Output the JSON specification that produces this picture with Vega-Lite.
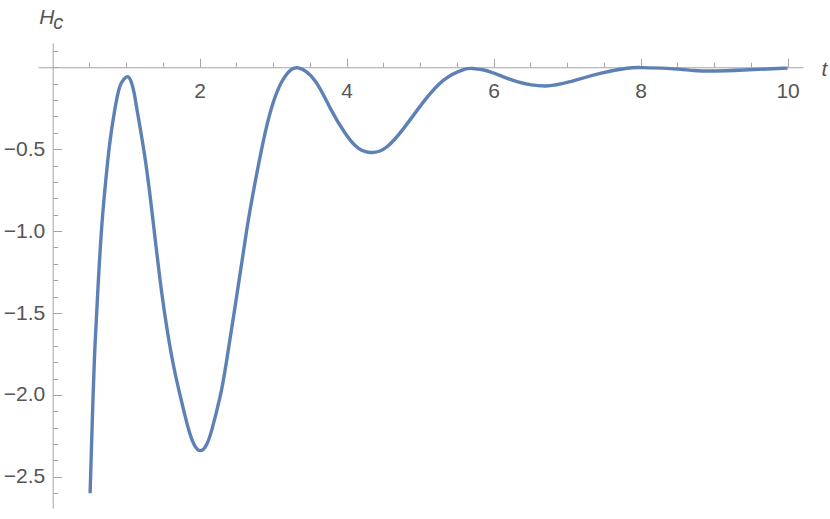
{
  "$schema": "https://vega.github.io/schema/vega-lite/v6.json",
  "width": 765,
  "height": 465,
  "autosize": "none",
  "padding": {"left": 38, "top": 43, "right": 27, "bottom": 11},
  "background": "white",
  "config": {"view": {"stroke": null}, "axis": {"grid": false}},
  "data": {"values": [
    {"t": 0.509, "H": -2.6},
    {"t": 0.536, "H": -2.197},
    {"t": 0.567, "H": -1.789},
    {"t": 0.612, "H": -1.381},
    {"t": 0.667, "H": -0.974},
    {"t": 0.727, "H": -0.669},
    {"t": 0.776, "H": -0.465},
    {"t": 0.844, "H": -0.261},
    {"t": 0.912, "H": -0.119},
    {"t": 0.966, "H": -0.075},
    {"t": 1.015, "H": -0.057},
    {"t": 1.065, "H": -0.085},
    {"t": 1.11, "H": -0.16},
    {"t": 1.148, "H": -0.261},
    {"t": 1.261, "H": -0.567},
    {"t": 1.374, "H": -0.969},
    {"t": 1.488, "H": -1.39},
    {"t": 1.62, "H": -1.765},
    {"t": 1.738, "H": -2.01},
    {"t": 1.85, "H": -2.211},
    {"t": 1.932, "H": -2.309},
    {"t": 2.009, "H": -2.34},
    {"t": 2.087, "H": -2.309},
    {"t": 2.169, "H": -2.207},
    {"t": 2.282, "H": -2.003},
    {"t": 2.36, "H": -1.81},
    {"t": 2.509, "H": -1.381},
    {"t": 2.645, "H": -0.98},
    {"t": 2.781, "H": -0.64},
    {"t": 2.917, "H": -0.35},
    {"t": 3.053, "H": -0.15},
    {"t": 3.189, "H": -0.04},
    {"t": 3.343, "H": -0.004},
    {"t": 3.574, "H": -0.085},
    {"t": 3.778, "H": -0.251},
    {"t": 3.982, "H": -0.404},
    {"t": 4.163, "H": -0.495},
    {"t": 4.354, "H": -0.52},
    {"t": 4.55, "H": -0.485},
    {"t": 4.776, "H": -0.373},
    {"t": 5.048, "H": -0.21},
    {"t": 5.32, "H": -0.078},
    {"t": 5.592, "H": -0.014},
    {"t": 5.72, "H": -0.008},
    {"t": 5.85, "H": -0.015},
    {"t": 6.0, "H": -0.035},
    {"t": 6.318, "H": -0.088},
    {"t": 6.7, "H": -0.114},
    {"t": 7.043, "H": -0.088},
    {"t": 7.451, "H": -0.037},
    {"t": 7.815, "H": -0.006},
    {"t": 8.0, "H": -0.002},
    {"t": 8.359, "H": -0.007},
    {"t": 8.721, "H": -0.02},
    {"t": 9.02, "H": -0.023},
    {"t": 9.401, "H": -0.017},
    {"t": 10.0, "H": -0.005}
  ]},
  "resolve": {"axis": {"x": "independent", "y": "independent"}},
  "layer": [
    {
      "mark": {"type": "line", "opacity": 0},
      "encoding": {
        "x": {"field": "t", "type": "quantitative",
          "scale": {"domain": [-0.2, 10.21], "nice": false, "zero": false},
          "axis": {"orient": "bottom", "offset": -440.75, "domain": false, "labels": false, "title": null,
            "values": [0.5, 1, 1.5, 2, 2.5, 3, 3.5, 4, 4.5, 5, 5.5, 6, 6.5, 7, 7.5, 8, 8.5, 9, 9.5, 10],
            "tickColor": "#a6a6a6", "tickWidth": 1,
            "tickSize": {"condition": {"test": "datum.value % 2 === 0", "value": -9}, "value": -5}}},
        "y": {"field": "H", "type": "quantitative",
          "scale": {"domain": [-2.69, 0.148], "nice": false, "zero": false},
          "axis": {"orient": "left", "offset": -14.7, "domain": false, "labels": false,
            "values": [0.1, 0, -0.1, -0.2, -0.3, -0.4, -0.5, -0.6, -0.7, -0.8, -0.9, -1, -1.1, -1.2, -1.3, -1.4, -1.5, -1.6, -1.7, -1.8, -1.9, -2, -2.1, -2.2, -2.3, -2.4, -2.5, -2.6],
            "tickColor": "#a6a6a6", "tickWidth": 1,
            "tickSize": {"condition": {"test": "abs(datum.value*2 - round(datum.value*2)) < 0.000001 && datum.value !== 0", "value": -9}, "value": -5},
            "title": "c", "titleAngle": 0, "titleAlign": "left", "titleBaseline": "alphabetic",
            "titleX": 0, "titleY": -15, "titleFont": "Liberation Sans", "titleFontStyle": "italic",
            "titleFontWeight": "normal", "titleFontSize": 20, "titleColor": "#555555"}}
      }
    },
    {
      "mark": {"type": "line", "color": "#5E81B5", "strokeWidth": 3.4, "interpolate": "natural", "strokeCap": "butt", "clip": false},
      "encoding": {
        "x": {"field": "t", "type": "quantitative",
          "axis": {"orient": "bottom", "offset": -440.75, "ticks": false, "domainColor": "#a6a6a6", "domainWidth": 1,
            "values": [2, 4, 6, 8, 10], "labelFont": "Liberation Sans", "labelFontSize": 21, "labelColor": "#555555",
            "labelPadding": 13, "labelBaseline": "top", "labelFlush": false,
            "title": "t", "titleX": 783, "titleY": 8, "titleAlign": "left", "titleBaseline": "alphabetic",
            "titleFont": "Liberation Sans", "titleFontStyle": "italic", "titleFontWeight": "normal",
            "titleFontSize": 21, "titleColor": "#555555"}},
        "y": {"field": "H", "type": "quantitative",
          "axis": {"orient": "left", "offset": -14.7, "ticks": false, "domainColor": "#a6a6a6", "domainWidth": 1,
            "values": [-0.5, -1, -1.5, -2, -2.5], "format": ".1f", "labelFont": "Liberation Sans", "labelFontSize": 21,
            "labelColor": "#555555", "labelPadding": 8, "labelFlush": false,
            "title": "H", "titleAngle": 0, "titleX": -14, "titleY": -19.7, "titleAlign": "left",
            "titleBaseline": "alphabetic", "titleFont": "Liberation Sans", "titleFontStyle": "italic",
            "titleFontWeight": "normal", "titleFontSize": 21, "titleColor": "#555555"}}
      }
    }
  ]
}
